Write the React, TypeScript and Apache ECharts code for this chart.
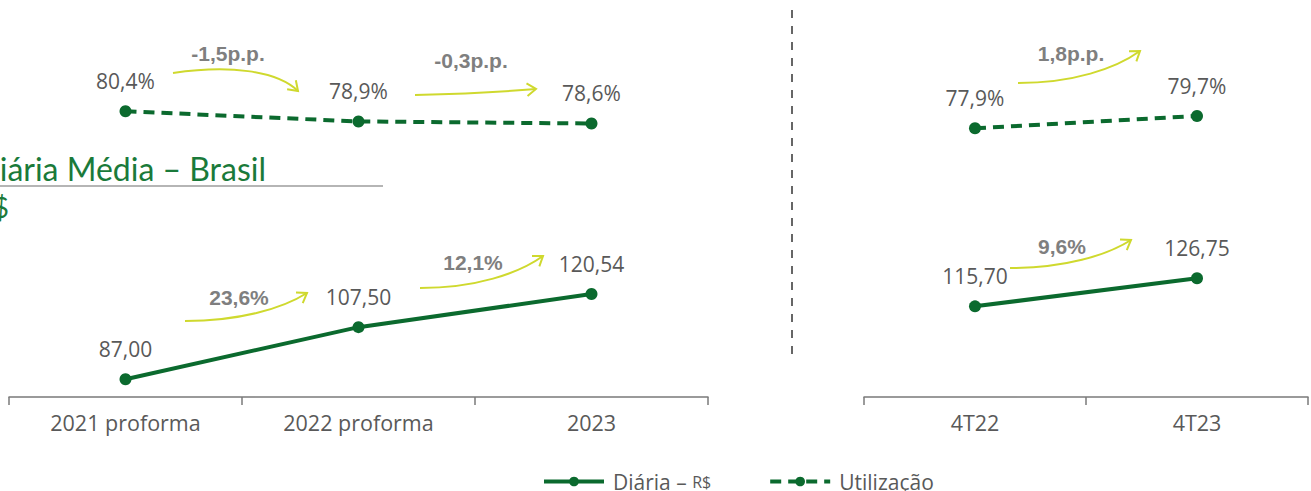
import React, { useEffect, useRef } from "react";
import * as echarts from "echarts";

const yearCategories = ["2021 proforma", "2022 proforma", "2023"];
const quarterCategories = ["4T22", "4T23"];
const diariaYears = [87.0, 107.5, 120.54];
const utilizacaoYears = [80.4, 78.9, 78.6];
const diariaQuarters = [115.7, 126.75];
const utilizacaoQuarters = [77.9, 79.7];
const changeLabels = ["-1,5p.p.", "-0,3p.p.", "23,6%", "12,1%", "1,8p.p.", "9,6%"];

const GREEN = "#0b6a2e";
const GRAY = "#595959";
const ARROW = "#cfd92e";
const LABEL_FONT = "Open Sans";

type Arrow = { s: number[]; e: number[]; c1: number[]; c2: number[]; lx: number; ly: number };

function makeArrow(a: Arrow, label: string) {
  const [ex, ey] = a.e;
  const ang = Math.atan2(ey - a.c2[1], ex - a.c2[0]);
  const L = 11;
  const w = (35 * Math.PI) / 180;
  const p1 = [ex - L * Math.cos(ang - w), ey - L * Math.sin(ang - w)];
  const p2 = [ex - L * Math.cos(ang + w), ey - L * Math.sin(ang + w)];
  return [
    {
      type: "bezierCurve",
      shape: {
        x1: a.s[0], y1: a.s[1], x2: ex, y2: ey,
        cpx1: a.c1[0], cpy1: a.c1[1], cpx2: a.c2[0], cpy2: a.c2[1],
      },
      style: { stroke: ARROW, lineWidth: 2, fill: null },
      silent: true,
    },
    {
      type: "polyline",
      shape: { points: [p1, [ex, ey], p2] },
      style: { stroke: ARROW, lineWidth: 2, fill: null },
      silent: true,
    },
    {
      type: "text",
      x: a.lx,
      y: a.ly,
      style: {
        text: label,
        fill: "#7f7f7f",
        font: "bold 21px 'Liberation Sans', Arial, sans-serif",
        align: "center",
        verticalAlign: "middle",
      },
      silent: true,
    },
  ];
}

function upArrow(sx: number, sy: number, ex: number, ey: number, lx: number, ly: number): Arrow {
  const dx = ex - sx;
  const dy = ey - sy;
  return { s: [sx, sy], e: [ex, ey], c1: [sx + 0.45 * dx, sy], c2: [sx + 0.8 * dx, sy + 0.45 * dy], lx, ly };
}

const arrows: Arrow[] = [
  { s: [173, 73], e: [298, 91], c1: [228, 65], c2: [276, 70], lx: 228, ly: 53 },
  { s: [415, 95], e: [536, 89], c1: [455, 94], c2: [500, 92], lx: 471, ly: 60 },
  upArrow(185, 321, 307, 293, 239, 297),
  upArrow(420, 288, 543, 256, 473, 262),
  upArrow(1018, 83, 1140, 51, 1071, 53),
  upArrow(1010, 268, 1131, 240, 1062, 246),
];

export default function App() {
  const ref = useRef<HTMLDivElement>(null);
  useEffect(() => {
    if (!ref.current) return;
    const chart = echarts.init(ref.current, null, { renderer: "svg" });
    const labelCommon = {
      show: true,
      position: "top",
      distance: 14,
      color: GRAY,
      fontFamily: LABEL_FONT,
      fontSize: 21,
    };
    const diariaLabel = {
      ...labelCommon,
      formatter: (p: any) => Number(p.value).toFixed(2).replace(".", ","),
    };
    const utilLabel = {
      ...labelCommon,
      formatter: (p: any) => Number(p.value).toFixed(1).replace(".", ",") + "%",
    };
    const solid = { color: GREEN, width: 4 };
    const dashed = { color: GREEN, width: 4, type: [11, 7] };
    const xAxisCommon = {
      type: "category",
      boundaryGap: true,
      axisLine: { show: true, lineStyle: { color: "#7a7a7a", width: 1.5 } },
      axisTick: { show: true, length: 8, lineStyle: { color: "#7a7a7a", width: 1.5 } },
      axisLabel: { color: GRAY, fontFamily: LABEL_FONT, fontSize: 21.5, margin: 14 },
      splitLine: { show: false },
    };
    const yDiaria = { type: "value", min: 80, max: 230, show: false, splitLine: { show: false } };
    const yUtil = { type: "value", min: 38.4, max: 94.4, show: false, splitLine: { show: false } };

    const graphics: any[] = [
      {
        type: "text",
        x: 266,
        y: 168,
        style: {
          text: "Diária Média – Brasil",
          fill: "#1a7a3a",
          font: "32px Lato, sans-serif",
          align: "right",
          verticalAlign: "middle",
        },
        silent: true,
      },
      {
        type: "line",
        shape: { x1: 0, y1: 186, x2: 383, y2: 186 },
        style: { stroke: "#b5b5b5", lineWidth: 2 },
        silent: true,
      },
      {
        type: "text",
        x: 9,
        y: 207,
        style: {
          text: "R$",
          fill: "#1a7a3a",
          font: "28px Lato, sans-serif",
          align: "right",
          verticalAlign: "middle",
        },
        silent: true,
      },
      {
        type: "line",
        shape: { x1: 792, y1: 10, x2: 792, y2: 362 },
        style: { stroke: "#666666", lineWidth: 2, lineDash: [8, 8] },
        silent: true,
      },
    ];
    arrows.forEach((a, i) => graphics.push(...makeArrow(a, changeLabels[i])));

    chart.setOption({
      animation: false,
      grid: [
        { left: 9, right: 603, top: 16, bottom: 94 },
        { left: 864, right: 3, top: 16, bottom: 94 },
      ],
      xAxis: [
        { ...xAxisCommon, gridIndex: 0, data: yearCategories },
        { ...xAxisCommon, gridIndex: 1, data: quarterCategories },
      ],
      yAxis: [
        { ...yDiaria, gridIndex: 0 },
        { ...yUtil, gridIndex: 0 },
        { ...yDiaria, gridIndex: 1 },
        { ...yUtil, gridIndex: 1 },
      ],
      legend: {
        left: 537,
        top: 466,
        itemWidth: 60,
        itemHeight: 12,
        itemGap: 57,
        lineStyle: { width: 4 },
        data: ["Diária", "Utilização"],
        formatter: (name: string) => (name === "Diária" ? "Diária – {s|R$}" : name),
        textStyle: {
          color: GRAY,
          fontFamily: LABEL_FONT,
          fontSize: 21,
          padding: [0, 0, 0, 4],
          rich: { s: { fontSize: 16, color: GRAY, fontFamily: LABEL_FONT } },
        },
      },
      graphic: graphics,
      series: [
        {
          name: "Diária", type: "line", xAxisIndex: 0, yAxisIndex: 0, data: diariaYears,
          symbol: "circle", symbolSize: 12, itemStyle: { color: GREEN }, lineStyle: solid, label: diariaLabel,
        },
        {
          name: "Utilização", type: "line", xAxisIndex: 0, yAxisIndex: 1, data: utilizacaoYears,
          symbol: "circle", symbolSize: 12, itemStyle: { color: GREEN }, lineStyle: dashed, label: utilLabel,
        },
        {
          name: "Diária", type: "line", xAxisIndex: 1, yAxisIndex: 2, data: diariaQuarters,
          symbol: "circle", symbolSize: 12, itemStyle: { color: GREEN }, lineStyle: solid, label: diariaLabel,
        },
        {
          name: "Utilização", type: "line", xAxisIndex: 1, yAxisIndex: 3, data: utilizacaoQuarters,
          symbol: "circle", symbolSize: 12, itemStyle: { color: GREEN }, lineStyle: dashed, label: utilLabel,
        },
      ],
    });
    return () => chart.dispose();
  }, []);
  return <div ref={ref} style={{ position: "absolute", left: 0, top: 0, width: 1311, height: 491 }} />;
}
